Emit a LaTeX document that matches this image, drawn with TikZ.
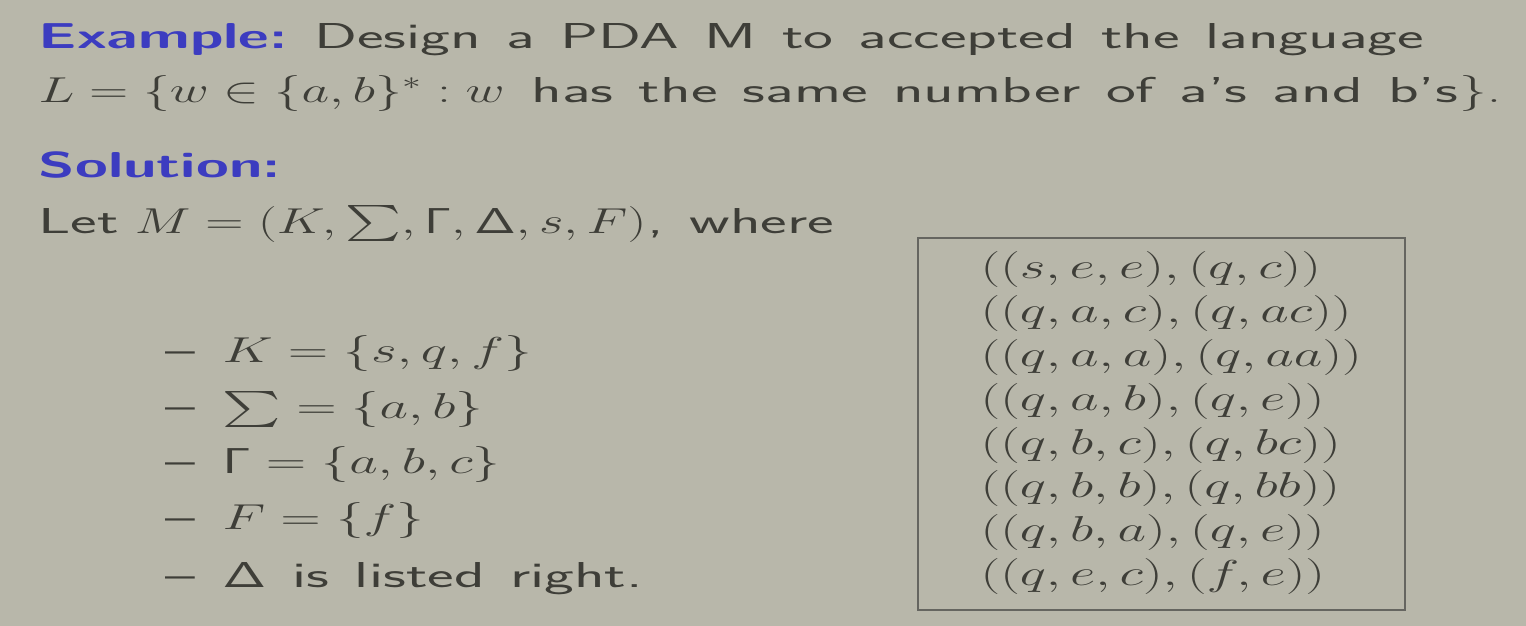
\RequirePackage{fix-cm}
\documentclass[tikz,border=0pt]{standalone}
\usepackage{amsfonts,amsmath,amssymb}
\usepackage{tikz}
\definecolor{slidebg}{RGB}{184,183,170}
\definecolor{slidetext}{RGB}{62,62,56}
\definecolor{slideblue}{RGB}{60,60,192}
\newcommand{\sfGam}{\mathsf{\Gamma}}
\newcommand{\sfDel}{\mathsf{\Delta}}
\newcommand{\slidefont}{\fontsize{18}{22}\selectfont\sffamily\spaceskip 0.4em\relax}

\begin{document}
\begin{tikzpicture}[x=0.5pt, y=-0.5pt,
    txt/.style={inner sep=0pt, anchor=base west, text=slidetext, xscale=1.76,
        font=\slidefont},
    head/.style={txt, xscale=0.943, text=slideblue, font=\slidefont\bfseries},
    mth/.style={inner sep=0pt, anchor=base west, text=slidetext, xscale=1.54,
        font=\fontsize{18}{22}\selectfont}]
    \fill[slidebg] (0,0) rectangle (1526,626);
    % heading and language
    \path
        (38, 49) node[head] (ex){Example:}
        (ex.base east) node[txt] (task){\ Design a PDA M to accepted the language}
        (38, 103) node[mth, xscale=0.97] (lang){$L=\{w\in\{a,b\}^*:w$}
        (lang.base east) node[txt] (same){\ has the same number of a's and b's}
        (same.base east) node[mth] (close){$\}$.}
        (38, 177) node[head] (sol){Solution:}
        (38, 233) node[txt] (let){Let}
        (let.base east) node[mth, xscale=0.955] (tuple){\kern 5pt$M=(K,\sum,\sfGam,\sfDel,s,F)$}
        (tuple.base east) node[txt] (where){, where};
    % components of M
    \path[every node/.style={txt}]
        (165, 362) node (d1){\textendash}
        (165, 418) node (d2){\textendash}
        (165, 473) node (d3){\textendash}
        (165, 529) node (d4){\textendash}
        (165, 587) node (d5){\textendash};
    \path[every node/.style={mth}]
        (222, 362) node (k){$K=\{s,q,f\}$}
        (222, 418) node (sig){$\sum=\{a,b\}$}
        (222, 473) node (gam){$\sfGam=\{a,b,c\}$}
        (222, 529) node (fin){$F=\{f\}$}
        (222, 587) node (del){$\sfDel$};
    \node[txt] (listed) at (del.base east) {\ is listed right.};
    % transition relation
    \draw[slidetext!80, line width=1.2pt] (918, 238) rectangle (1405, 610);
    \path[every node/.style={mth}]
        (980, 278) node (r1){$((s,e,e),(q,c))$}
        (980, 322) node (r2){$((q,a,c),(q,ac))$}
        (980, 366) node (r3){$((q,a,a),(q,aa))$}
        (980, 410) node (r4){$((q,a,b),(q,e))$}
        (980, 454) node (r5){$((q,b,c),(q,bc))$}
        (980, 497) node (r6){$((q,b,b),(q,bb))$}
        (980, 541) node (r7){$((q,b,a),(q,e))$}
        (980, 585) node (r8){$((q,e,c),(f,e))$};
\end{tikzpicture}
\end{document}
